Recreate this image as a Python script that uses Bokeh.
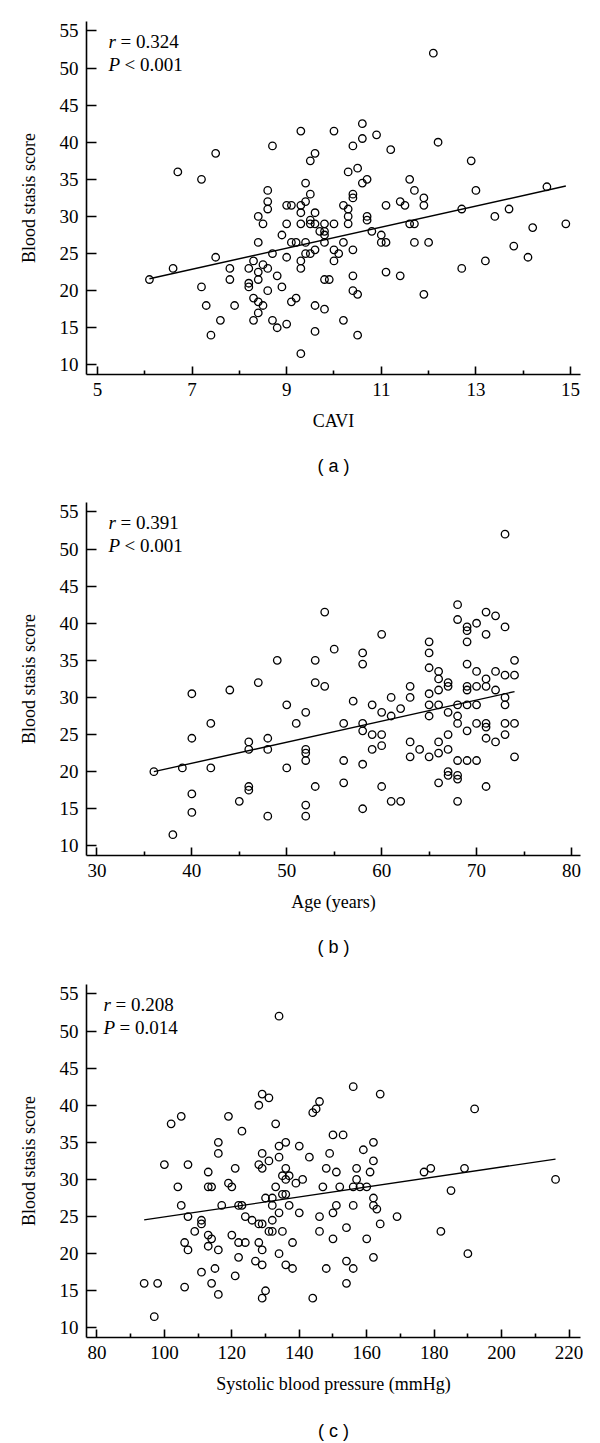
from bokeh.plotting import figure
from bokeh.models import FixedTicker, Range1d, Label, LinearAxis
from bokeh.layouts import column
from bokeh.embed import file_html
from bokeh.resources import INLINE

# ---------------- data ----------------
# Panel (a): CAVI vs blood stasis score
cavi_x = [12.1, 9.3, 10.0, 10.6, 10.6, 10.9, 10.4, 8.7, 11.2, 12.2, 7.5, 9.6, 9.5, 12.9,
          6.7, 7.2, 10.3, 10.5, 10.6, 10.7, 11.6, 9.4, 8.6, 9.5, 10.4, 10.4, 11.7, 11.9, 13.0, 14.5,
          8.6, 9.4, 11.4, 11.5, 9.0, 9.1, 9.3, 10.2, 11.1, 11.9, 8.6, 10.3, 12.7, 13.7, 9.3, 9.6,
          8.4, 10.3, 10.7, 13.4, 9.5, 10.7, 8.5, 9.0, 9.3, 9.5, 9.6, 9.8, 10.0, 10.3, 11.6, 11.7, 14.9,
          9.7, 9.8, 10.8, 9.8, 14.2, 8.9, 11.0, 8.4, 9.1, 9.2, 9.4, 9.8, 10.2, 11.0, 11.1, 11.7, 12.0,
          13.8, 8.7, 9.4, 9.5, 9.6, 10.0, 10.1, 10.4, 7.5, 9.0, 8.3, 9.3, 10.0, 13.2, 14.1, 8.5,
          6.6, 7.8, 8.2, 8.6, 9.3, 12.7, 8.4, 11.1, 8.8, 10.4, 11.4, 6.1, 7.8, 8.4, 9.8, 9.9, 8.2,
          7.2, 8.2, 8.9, 8.6, 10.4, 10.5, 11.9, 8.3, 9.2, 8.4, 9.1, 7.3, 7.9, 8.5, 9.6, 9.8,
          7.6, 8.4, 8.3, 8.7, 9.0, 8.8, 10.2, 7.4, 9.6, 10.5, 9.3]
cavi_y = [52.0, 41.5, 41.5, 42.5, 40.5, 41.0, 39.5, 39.5, 39.0, 40.0, 38.5, 38.5, 37.5, 37.5,
          36.0, 35.0, 36.0, 36.5, 34.5, 35.0, 35.0, 34.5, 33.5, 33.0, 33.0, 32.5, 33.5, 32.5, 33.5, 34.0,
          32.0, 32.0, 32.0, 31.5, 31.5, 31.5, 31.5, 31.5, 31.5, 31.5, 31.0, 31.0, 31.0, 31.0, 30.5, 30.5,
          30.0, 30.0, 30.0, 30.0, 29.5, 29.5, 29.0, 29.0, 29.0, 29.0, 29.0, 29.0, 29.0, 29.0, 29.0, 29.0, 29.0,
          28.0, 28.0, 28.0, 27.5, 28.5, 27.5, 27.5, 26.5, 26.5, 26.5, 26.5, 26.5, 26.5, 26.5, 26.5, 26.5, 26.5,
          26.0, 25.0, 25.0, 25.0, 25.5, 25.5, 25.0, 25.5, 24.5, 24.5, 24.0, 24.0, 24.0, 24.0, 24.5, 23.5,
          23.0, 23.0, 23.0, 23.0, 23.0, 23.0, 22.5, 22.5, 22.0, 22.0, 22.0, 21.5, 21.5, 21.5, 21.5, 21.5, 21.0,
          20.5, 20.5, 20.5, 20.0, 20.0, 19.5, 19.5, 19.0, 19.0, 18.5, 18.5, 18.0, 18.0, 18.0, 18.0, 17.5,
          16.0, 17.0, 16.0, 16.0, 15.5, 15.0, 16.0, 14.0, 14.5, 14.0, 11.5]
cavi_fit = (1.42, 12.94)          # slope, intercept of the drawn regression line

# Panel (b): age vs blood stasis score
age_x = [73, 54, 68, 68, 71, 72, 70, 69, 69, 73, 60, 71, 65,
         69, 55, 58, 65, 49, 53, 74, 58, 69, 65, 66, 70, 72, 73, 74, 66, 71, 47, 53, 67, 54, 63, 67, 69,
         70, 71, 44, 66, 69, 72, 40, 65, 61, 63, 73, 57, 50, 59, 65, 66, 68, 69, 70, 73, 62, 52, 60, 67,
         61, 65, 68, 42, 51, 56, 58, 68, 70, 71, 73, 74, 71, 58, 69, 40, 48, 71, 59, 60, 67, 73, 46, 63,
         66, 72, 60, 46, 48, 52, 59, 64, 67, 52, 66, 63, 65, 74, 52, 56, 68, 69, 70, 58, 36, 39, 42, 50,
         67, 68, 67, 68, 66, 56, 46, 53, 60, 71,
         46, 40, 45, 40, 52, 52, 48, 58, 61, 62, 68, 38]
age_y = [52.0, 41.5, 42.5, 40.5, 41.5, 41.0, 40.0, 39.5, 39.0, 39.5, 38.5, 38.5, 37.5,
         37.5, 36.5, 36.0, 36.0, 35.0, 35.0, 35.0, 34.5, 34.5, 34.0, 33.5, 33.5, 33.5, 33.0, 33.0, 32.5, 32.5,
         32.0, 32.0, 32.0, 31.5, 31.5, 31.5, 31.5, 31.5, 31.5, 31.0, 31.0, 31.0, 31.0, 30.5, 30.5, 30.0,
         30.0, 30.0, 29.5, 29.0, 29.0, 29.0, 29.0, 29.0, 29.0, 29.0, 29.0, 28.5, 28.0, 28.0, 28.0,
         27.5, 27.5, 27.5, 26.5, 26.5, 26.5, 26.5, 26.5, 26.5, 26.5, 26.5, 26.5, 26.0, 25.5, 25.5, 24.5,
         24.5, 24.5, 25.0, 25.0, 25.0, 25.0, 24.0, 24.0, 24.0, 24.0, 23.5, 23.0, 23.0, 23.0, 23.0, 23.0,
         23.0, 22.5, 22.5, 22.0, 22.0, 22.0, 21.5, 21.5, 21.5, 21.5, 21.5, 21.0, 20.0, 20.5, 20.5, 20.5,
         20.0, 19.5, 19.5, 19.0, 18.5, 18.5, 18.0, 18.0, 18.0, 18.0,
         17.5, 17.0, 16.0, 14.5, 15.5, 14.0, 14.0, 15.0, 16.0, 16.0, 16.0, 11.5]
age_fit = (0.284, 9.77)

# Panel (c): systolic blood pressure vs blood stasis score
sbp_x = [134, 156, 164, 129, 131, 128, 146, 192,
         145, 144, 102, 105, 119, 133, 123, 150, 153, 116, 136, 162, 134, 140, 159, 116, 129, 149,
         134, 143, 131, 162, 100, 107, 128, 121, 129, 136, 148, 157, 179, 189, 113, 151, 161, 177,
         135, 137, 136, 141, 157, 216, 119, 139, 104, 113, 114, 120, 133, 147, 152, 156, 158, 160,
         185, 135, 136, 130, 132, 162, 105, 117, 122, 123, 132, 137, 151, 156, 162, 163, 134, 140,
         150, 107, 124, 146, 169, 111, 126, 132, 111, 128, 129, 164, 154, 109, 131, 132, 135, 146,
         182, 120, 113, 114, 150, 160, 106, 122, 124, 128, 138, 113, 107, 116, 129, 134, 190, 122,
         162, 127, 154,
         129, 136, 115, 138, 148, 156, 111, 121, 94, 98, 114, 154, 106, 116, 130, 129, 144, 97]
sbp_y = [52.0, 42.5, 41.5, 41.5, 41.0, 40.0, 40.5, 39.5,
         39.5, 39.0, 37.5, 38.5, 38.5, 37.5, 36.5, 36.0, 36.0, 35.0, 35.0, 35.0, 34.5, 34.5, 34.0, 33.5,
         33.5, 33.5, 33.0, 33.0, 32.5, 32.5, 32.0, 32.0, 32.0, 31.5, 31.5, 31.5, 31.5, 31.5, 31.5, 31.5,
         31.0, 31.0, 31.0, 31.0, 30.5, 30.5, 30.0, 30.0, 30.0, 30.0, 29.5, 29.5, 29.0, 29.0, 29.0, 29.0,
         29.0, 29.0, 29.0, 29.0, 29.0, 29.0, 28.5, 28.0, 28.0, 27.5, 27.5, 27.5, 26.5, 26.5, 26.5, 26.5,
         26.5, 26.5, 26.5, 26.5, 26.5, 26.0, 25.5, 25.5, 25.5, 25.0, 25.0, 25.0, 25.0, 24.5, 24.5, 24.5,
         24.0, 24.0, 24.0, 24.0, 23.5, 23.0, 23.0, 23.0, 23.0, 23.0, 23.0, 22.5, 22.5, 22.0, 22.0, 22.0,
         21.5, 21.5, 21.5, 21.5, 21.5, 21.0, 20.5, 20.5, 20.5, 20.0, 20.0, 19.5, 19.5, 19.0, 19.0,
         18.5, 18.5, 18.0, 18.0, 18.0, 18.0, 17.5, 17.0, 16.0, 16.0, 16.0, 16.0, 15.5, 14.5, 15.0, 14.0,
         14.0, 11.5]
sbp_fit = (0.0672, 18.23)

y_ticks = [10, 15, 20, 25, 30, 35, 40, 45, 50, 55]

SERIF = "Liberation Serif"
SANS = "Liberation Sans"
FW, FH = 494, 353
YR = (8.7, 56.27)


def panel(xs, ys, fit, xr, xticks, xminor, xlabel, r_txt, p_txt, caption,
          top, height, ann_dx, cap_standoff):
    p = figure(frame_width=FW, frame_height=FH, output_backend="svg",
               toolbar_location=None, x_range=Range1d(*xr), y_range=Range1d(*YR),
               min_border_left=86, min_border_right=3, min_border_top=top,
               min_border_bottom=height - top - FH)
    p.outline_line_color = None
    p.grid.visible = False
    p.background_fill_color = "white"
    p.border_fill_color = "white"

    xa = p.xaxis[0]
    xa.ticker = FixedTicker(ticks=xticks, minor_ticks=xminor)
    ya = p.yaxis[0]
    ya.ticker = FixedTicker(ticks=y_ticks, minor_ticks=[])
    for a in (xa, ya):
        a.axis_line_width = 1.6
        a.axis_line_color = "black"
        a.major_tick_line_width = 1.6
        a.minor_tick_line_width = 1.6
        a.major_tick_line_color = "black"
        a.minor_tick_line_color = "black"
        a.major_tick_out = 0
        a.minor_tick_out = 0
        a.major_label_text_font = SERIF
        a.major_label_text_font_size = "19px"
        a.major_label_text_color = "black"
        a.axis_label_text_font = SERIF
        a.axis_label_text_font_size = "18px"
        a.axis_label_text_font_style = "normal"
        a.axis_label_text_color = "black"
    xa.major_tick_in = 8
    xa.minor_tick_in = 4
    xa.major_label_standoff = 8
    xa.axis_label = xlabel
    xa.axis_label_standoff = 12
    ya.major_tick_in = 10
    ya.major_label_standoff = 8
    ya.axis_label = "Blood stasis score"
    ya.axis_label_standoff = 18

    p.scatter(xs, ys, marker="circle", size=7.5, fill_color=None,
              line_color="black", line_width=1.3)
    x0, x1 = min(xs), max(xs)
    s, b = fit
    p.line([x0, x1], [b + s * x0, b + s * x1], line_color="black", line_width=1.4)

    # annotation positions (relative to frame, in px)
    xpx = (xr[1] - xr[0]) / FW
    ypx = (YR[1] - YR[0]) / FH
    ax_ = xr[0] + ann_dx * xpx
    for i, (sym, rest, w) in enumerate([("r", r_txt, 12), ("P", p_txt, 16)]):
        yy = YR[1] - (20 + 23 * i) * ypx
        p.add_layout(Label(x=ax_, y=yy, text=sym, text_font=SERIF, text_font_size="19px",
                           text_font_style="italic", text_baseline="middle",
                           text_align="left", text_color="black"))
        p.add_layout(Label(x=ax_, y=yy, x_offset=w, text=rest, text_font=SERIF,
                           text_font_size="19px", text_baseline="middle",
                           text_align="left", text_color="black"))

    # panel caption drawn as the label of a bare, tickless axis below the x axis
    cap = LinearAxis(ticker=FixedTicker(ticks=[], minor_ticks=[]), axis_label=caption,
                     axis_line_color=None, major_tick_line_color=None,
                     minor_tick_line_color=None, major_label_text_font_size="0px",
                     major_tick_out=0, major_tick_in=0, minor_tick_out=0, minor_tick_in=0,
                     major_label_standoff=0,
                     axis_label_text_font=SANS, axis_label_text_font_size="18px",
                     axis_label_text_font_style="normal", axis_label_text_color="black",
                     axis_label_standoff=cap_standoff)
    p.add_layout(cap, "below")
    return p


pa = panel(cavi_x, cavi_y, cavi_fit, (4.77, 15.21), [5, 7, 9, 11, 13, 15],
           [6, 8, 10, 12, 14], "CAVI", "= 0.324", "< 0.001", "( a )", 21, 488, 22, 22)
pb = panel(age_x, age_y, age_fit, (28.9, 80.95), [30, 40, 50, 60, 70, 80],
           [35, 45, 55, 65, 75], "Age (years)", "= 0.391", "< 0.001", "( b )", 14, 480, 22, 22)
pc = panel(sbp_x, sbp_y, sbp_fit, (76.9, 223.4), [80, 100, 120, 140, 160, 180, 200, 220],
           [90, 110, 130, 150, 170, 190, 210], "Systolic blood pressure (mmHg)",
           "= 0.208", "= 0.014", "( c )", 16, 475, 17, 24)

layout = column(pa, pb, pc, spacing=0)
open("out.html", "w").write(file_html(layout, INLINE))
